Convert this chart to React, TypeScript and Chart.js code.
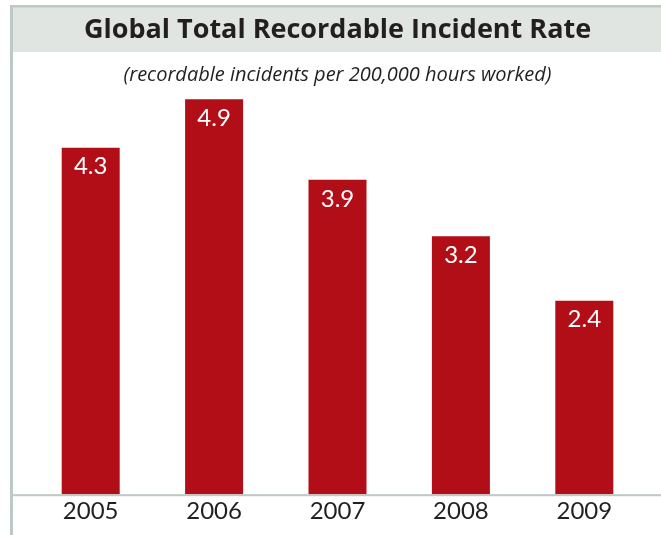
import React, { useEffect, useRef } from "react";
import { Chart, registerables } from "chart.js";

Chart.register(...registerables);

const years = ["2005", "2006", "2007", "2008", "2009"];
const rates = [4.3, 4.9, 3.9, 3.2, 2.4];
const titleText = "Global Total Recordable Incident Rate";
const subtitleText = "(recordable incidents per 200,000 hours worked)";

const BAR = "#B20E17";
const FRAME = "#BDC9C3";
const BAND = "#E1E5E2";
const INK = "#231F20";
const FONT = "Lato, 'Open Sans', sans-serif";
const HEAD_FONT = "'Open Sans', Lato, sans-serif";

const framePlugin = {
  id: "frame",
  beforeDraw(chart: any) {
    const { ctx, width, height, chartArea } = chart;
    ctx.save();
    ctx.fillStyle = "#ffffff";
    ctx.fillRect(0, 0, width, height);
    ctx.fillStyle = BAND;
    ctx.fillRect(13, 7, width - 13, 45);
    ctx.fillStyle = FRAME;
    ctx.fillRect(10, 5, 3, height - 5);
    ctx.fillRect(10, 5, width - 10, 2.5);
    ctx.fillRect(13, chartArea.bottom, width - 13, 2);
    ctx.restore();
  },
};

const labelPlugin = {
  id: "barLabels",
  afterDatasetsDraw(chart: any) {
    const { ctx } = chart;
    const meta = chart.getDatasetMeta(0);
    ctx.save();
    ctx.fillStyle = "#ffffff";
    ctx.font = `24px ${FONT}`;
    ctx.textAlign = "center";
    ctx.textBaseline = "middle";
    meta.data.forEach((bar: any, i: number) => {
      ctx.fillText(rates[i].toFixed(1), bar.x, bar.y + 19);
    });
    ctx.restore();
  },
};

export default function App() {
  const ref = useRef<HTMLCanvasElement | null>(null);
  useEffect(() => {
    document.body.style.margin = "0";
    if (!ref.current) return;
    const chart = new Chart(ref.current, {
      type: "bar",
      data: {
        labels: years,
        datasets: [
          {
            data: rates,
            backgroundColor: BAR,
            borderWidth: 0,
            categoryPercentage: 0.94,
            barPercentage: 0.5,
          },
        ],
      },
      options: {
        animation: false,
        responsive: false,
        devicePixelRatio: 1,
        layout: { padding: { left: 29, right: 15, top: 0, bottom: 6 } },
        plugins: {
          legend: { display: false },
          tooltip: { enabled: false },
          title: {
            display: true,
            text: titleText,
            color: INK,
            font: { family: HEAD_FONT, size: 27, weight: "bold" },
            padding: { top: 13.8, bottom: 16.8 },
          },
          subtitle: {
            display: true,
            text: subtitleText,
            color: INK,
            font: { family: HEAD_FONT, size: 20, style: "italic" },
            padding: { top: 0, bottom: 3 },
          },
        },
        scales: {
          x: {
            grid: { display: false, drawTicks: false },
            border: { display: false },
            ticks: {
              color: INK,
              font: { family: FONT, size: 24 },
              padding: 3,
            },
          },
          y: {
            display: false,
            min: 0,
            max: 5.015,
          },
        },
      },
      plugins: [framePlugin, labelPlugin],
    });
    return () => chart.destroy();
  }, []);
  return (
    <div style={{ position: "absolute", left: 0, top: 0, width: 661, height: 535 }}>
      <canvas ref={ref} width={661} height={535} style={{ width: 661, height: 535 }} />
    </div>
  );
}
